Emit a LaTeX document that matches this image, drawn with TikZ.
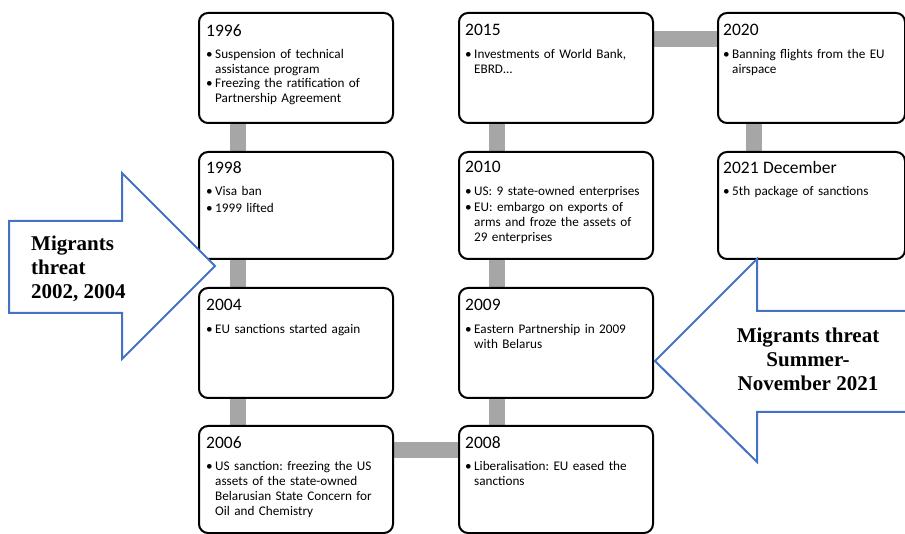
\documentclass[tikz,border=0pt]{standalone}
\usepackage{fontspec}
\setmainfont{Carlito}
\newfontfamily\threatfont{Liberation Serif}
\usepackage{xcolor}
\usetikzlibrary{backgrounds}
\definecolor{arrblue}{HTML}{4472C4}
\frenchspacing
\newcommand\yr[1]{{\fontsize{17.5}{20}\selectfont #1}\par\vskip6pt}
\newcommand\itm[1]{\par\vskip1.5pt\noindent\makebox[9pt][l]{\textbullet}%
  \parbox[t]{175pt}{\raggedright #1}}

\begin{document}
\begin{tikzpicture}[
  x=1pt, y=-1pt,
  font=\fontsize{13.2}{15}\selectfont,
  ev/.style={draw, line width=2pt, rounded corners=9pt, fill=white,
             minimum width=194pt, anchor=north west, inner sep=0pt},
  evtxt/.style={anchor=north west, inner sep=0pt, text width=184pt, align=left},
  bar/.style={draw=black!35, line width=16pt},
  threat/.style={draw=arrblue, line width=2pt, fill=white, line join=miter},
  threattxt/.style={font=\threatfont\bfseries\fontsize{21}{24}\selectfont, inner sep=0pt},
]
\useasboundingbox (0,0) rectangle (905,534);

\node[ev, minimum height=110pt] (b96) at (198,12) {};
\node[ev, minimum height=107pt] (b98) at (198,151) {};
\node[ev, minimum height=110pt] (b04) at (198,287) {};
\node[ev, minimum height=107pt] (b06) at (198,425) {};
\node[ev, minimum height=110pt] (b15) at (458,12) {};
\node[ev, minimum height=107pt] (b10) at (458,151) {};
\node[ev, minimum height=110pt] (b09) at (458,287) {};
\node[ev, minimum height=107pt] (b08) at (458,425) {};
\node[ev, minimum height=110pt, minimum width=187pt] (b20) at (717,12) {};
\node[ev, minimum height=107pt, minimum width=187pt] (b21) at (717,151) {};

\node[evtxt] (t96) at ([shift={(8,12)}]b96.north west) {\yr{1996}
  \itm{Suspension of technical\\ assistance program}
  \itm{Freezing the ratification of\\ Partnership Agreement}};
\node[evtxt] (t98) at ([shift={(8,10)}]b98.north west) {\yr{1998}
  \itm{Visa ban}
  \itm{1999 lifted}};
\node[evtxt] (t04) at ([shift={(8,12)}]b04.north west) {\yr{2004}
  \itm{EU sanctions started again}};
\node[evtxt] (t06) at ([shift={(8,11)}]b06.north west) {\yr{2006}
  \itm{US sanction: freezing the US\\ assets of the state-owned\\ Belarusian State Concern for\\ Oil and Chemistry}};
\node[evtxt] (t15) at ([shift={(7,12)}]b15.north west) {\yr{2015}
  \itm{Investments of World Bank,\\ EBRD...}};
\node[evtxt] (t10) at ([shift={(7,10)}]b10.north west) {\yr{2010}
  \itm{US: 9 state-owned enterprises}
  \itm{EU: embargo on exports of\\ arms and froze the assets of\\ 29 enterprises}};
\node[evtxt] (t09) at ([shift={(7,12)}]b09.north west) {\yr{2009}
  \itm{Eastern Partnership in 2009\\ with Belarus}};
\node[evtxt] (t08) at ([shift={(7,11)}]b08.north west) {\yr{2008}
  \itm{Liberalisation: EU eased the\\ sanctions}};
\node[evtxt] (t20) at ([shift={(6,12)}]b20.north west) {\yr{2020}
  \itm{Banning flights from the EU\\ airspace}};
\node[evtxt] (t21) at ([shift={(6,10)}]b21.north west) {\yr{2021 December}
  \itm{5th package of sanctions}};

\begin{scope}[on background layer]
\draw[bar] ([xshift=40]b96.south west) -- ([xshift=40]b98.north west);
\draw[bar] ([xshift=40]b98.south west) -- ([xshift=40]b04.north west);
\draw[bar] ([xshift=40]b04.south west) -- ([xshift=40]b06.north west);
\draw[bar] ([yshift=-25]b06.north east) -- ([yshift=-25]b08.north west);
\draw[bar] ([xshift=39]b08.north west) -- ([xshift=39]b09.south west);
\draw[bar] ([xshift=39]b09.north west) -- ([xshift=39]b10.south west);
\draw[bar] ([xshift=39]b10.north west) -- ([xshift=39]b15.south west);
\draw[bar] ([yshift=-27]b15.north east) -- ([yshift=-27]b20.north west);
\draw[bar] ([xshift=37]b20.south west) -- ([xshift=37]b21.north west);
\end{scope}

\draw[threat] (9,221) -- (122,221) -- (122,173) -- (215,266) -- (122,359)
  -- (122,313) -- (9,313) -- cycle;
\node[threattxt, align=left, anchor=north west] (mt1) at (31,236)
  {Migrants\\threat\\2002, 2004};

\fill[white] (915,311) -- (757,311) -- (757,259) -- (655,361) -- (757,462)
  -- (757,412) -- (915,412) -- cycle;
\draw[threat] (915,311) -- (757,311) -- (757,259) -- (655,361) -- (757,462)
  -- (757,412) -- (915,412);
\node[threattxt, align=center, anchor=north] (mt2) at (808,328)
  {Migrants threat\\Summer-\\November 2021};
\end{tikzpicture}
\end{document}
